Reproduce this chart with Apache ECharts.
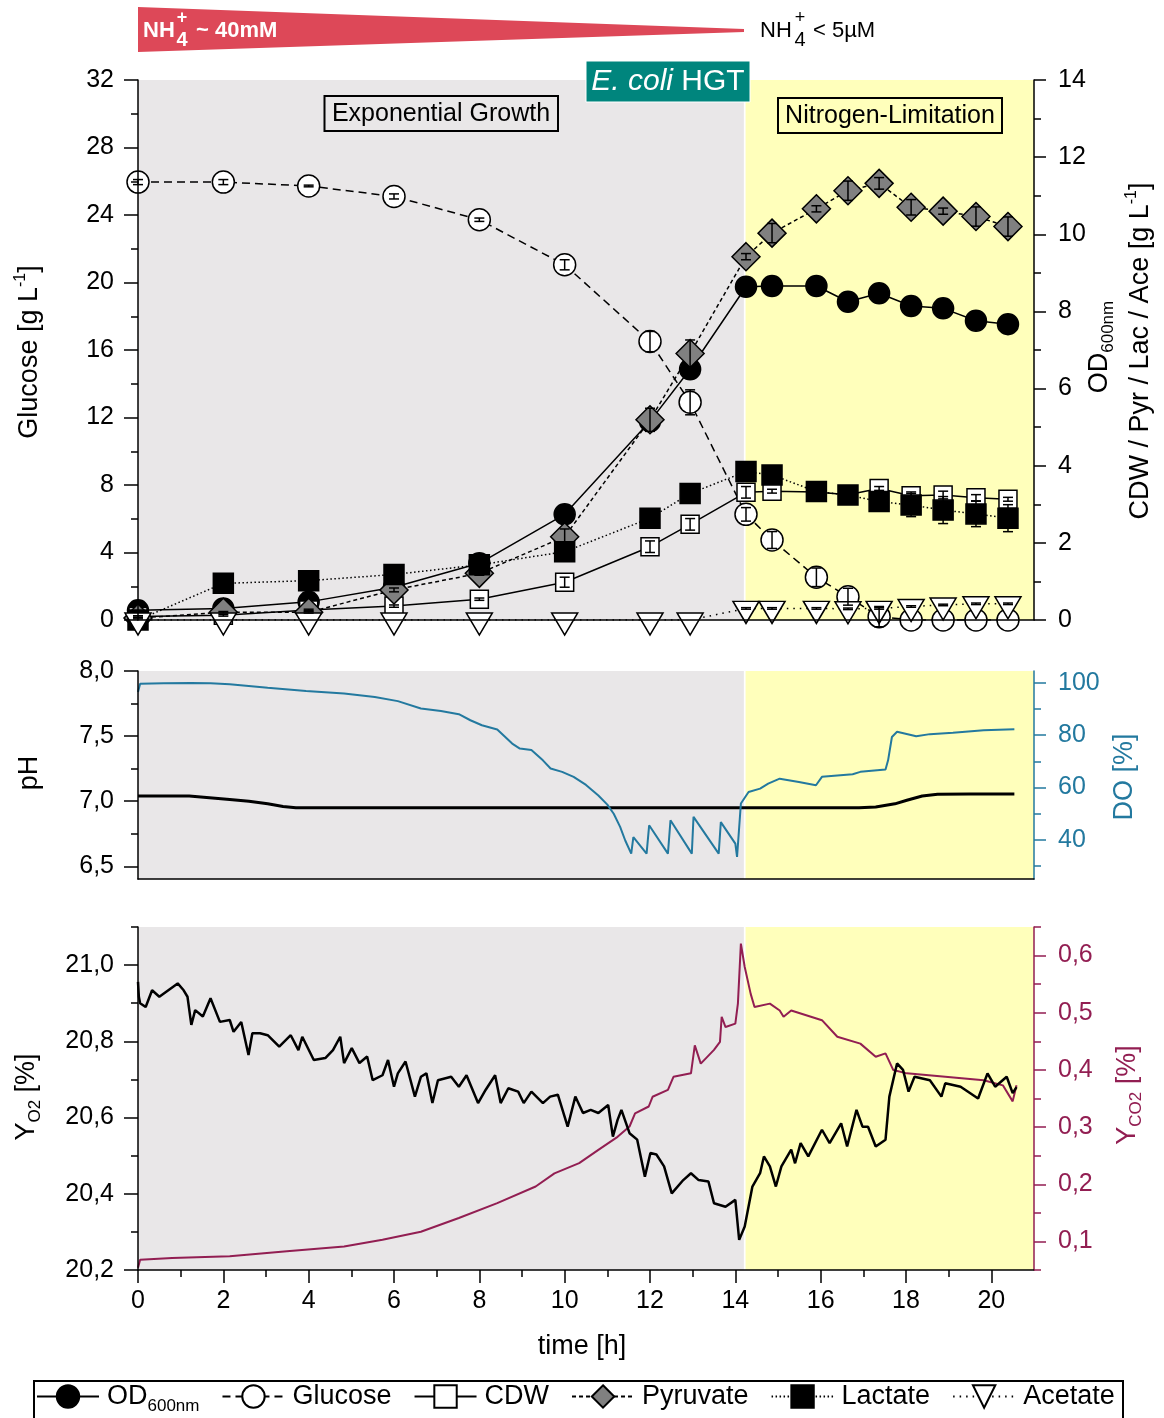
<!DOCTYPE html>
<html>
<head>
<meta charset="utf-8">
<title>E. coli HGT cultivation</title>
<script src="https://cdn.jsdelivr.net/npm/echarts@6.0.0/dist/echarts.min.js"></script>
<style>
html,body{margin:0;padding:0;background:#fff;}
#chart{width:1164px;height:1418px;}
</style>
</head>
<body>
<div id="chart"></div>
<script>
// ---------------- data ----------------
// offline samples (top panel)
const sampleTime = [0, 2, 4, 6, 8, 10, 12, 12.94, 14.25, 14.86, 15.9, 16.64, 17.37, 18.12, 18.87, 19.64, 20.39];
const od600      = [0.25, 0.3, 0.47, 0.85, 1.47, 2.74, 5.15, 6.5, 8.64, 8.66, 8.66, 8.25, 8.47, 8.14, 8.08, 7.76, 7.67];
const glucose    = [25.95, 25.95, 25.72, 25.1, 23.72, 21.05, 16.5, 12.9, 6.26, 4.74, 2.53, 1.38, 0.2, 0, 0, 0, 0];
const glucoseSD  = [0.15, 0.15, 0.05, 0.15, 0.1, 0.3, 0.6, 0.74, 0.4, 0.5, 0.55, 0.5, 0.6, 0, 0, 0, 0];
const cdw        = [0.09, 0.12, 0.26, 0.36, 0.54, 0.98, 1.9, 2.48, 3.31, 3.34, 3.32, 3.25, 3.41, 3.22, 3.24, 3.17, 3.13];
const cdwSD      = [0.02, 0.02, 0.02, 0.03, 0.03, 0.13, 0.15, 0.15, 0.15, 0.05, 0.05, 0.05, 0.05, 0.1, 0.1, 0.08, 0.05];
const pyruvate   = [0.05, 0.2, 0.2, 0.78, 1.21, 2.16, 5.19, 6.91, 9.42, 10.03, 10.66, 11.13, 11.32, 10.7, 10.6, 10.46, 10.2];
const pyruvateSD = [0.02, 0.02, 0.02, 0.05, 0.05, 0.2, 0.3, 0.35, 0.08, 0.25, 0.08, 0.25, 0.15, 0.2, 0.08, 0.25, 0.25];
const lactate    = [0, 0.95, 1.02, 1.18, 1.43, 1.77, 2.64, 3.28, 3.85, 3.76, 3.33, 3.24, 3.07, 2.98, 2.85, 2.75, 2.64];
const lactateSD  = [0, 0, 0, 0, 0, 0, 0, 0, 0, 0, 0.1, 0.1, 0.12, 0.3, 0.35, 0.33, 0.35];
const acetate    = [0, 0, 0, 0, 0, 0, 0, 0, 0.3, 0.3, 0.3, 0.29, 0.3, 0.35, 0.39, 0.42, 0.42];
const acetateSD  = [0, 0, 0, 0, 0, 0, 0, 0, 0.02, 0.02, 0.02, 0.02, 0.02, 0.02, 0.02, 0.02, 0.02];

// process phases (h)
const phaseNames = ['Exponential Growth', 'Nitrogen-Limitation'];
const phaseStart = [0, 14.24];
const phaseEnd   = [14.2, 21];

// online pH / DO (middle panel)
const phTime = [0, 1.2, 2.15, 2.6, 3.04, 3.4, 3.7, 4.5, 8, 12, 16, 16.9, 17.29, 17.74, 18.02, 18.38, 18.74, 19.5, 20.54];
const phVal  = [7.04, 7.04, 7.013, 7.0, 6.98, 6.96, 6.95, 6.95, 6.95, 6.95, 6.95, 6.95, 6.956, 6.98, 7.008, 7.04, 7.054, 7.055, 7.055];
const doTime = [0, 0.05, 0.6, 1.24, 1.7, 2.15, 3.04, 3.94, 4.83, 5.55, 6.09, 6.63, 7.1, 7.52, 7.79, 8.06, 8.42, 8.77, 8.95, 9.22,
                9.49, 9.67, 9.94, 10.21, 10.5, 10.79, 11.0, 11.15, 11.3, 11.42, 11.56, 11.61, 11.92, 11.98, 12.42, 12.48, 12.98, 13.02, 13.61, 13.66,
                14.0, 14.04, 14.13, 14.31, 14.58, 14.77, 15.04, 15.49, 15.89, 16.03, 16.75, 16.93, 17.52, 17.58, 17.67, 17.79, 18.24, 18.56, 19.1, 19.82, 20.54];
const doVal  = [96.5, 99.6, 99.8, 99.9, 99.8, 99.4, 98.1, 96.9, 95.9, 94.6, 93.0, 90.2, 89.2, 88.0, 85.7, 83.8, 82.2, 76.8, 74.9, 74.3,
                70.4, 67.3, 66.0, 64.1, 61.0, 57.0, 53.5, 50.0, 45.0, 39.8, 34.8, 41.1, 34.8, 45.6, 34.8, 47.5, 34.8, 48.8, 34.8, 46.8,
                38.6, 33.5, 53.9, 58.3, 59.6, 61.5, 63.4, 62.1, 60.9, 64.1, 65.1, 66.0, 66.9, 70.4, 79.3, 81.3, 79.6, 80.4, 80.9, 81.9, 82.3];

// off-gas (bottom panel)
const o2Time = [0, 0.02, 0.05, 0.18, 0.33, 0.5, 0.93, 1.07, 1.16, 1.25, 1.34, 1.52, 1.7, 1.92, 2.15, 2.24, 2.42, 2.59, 2.68, 2.86,
                3.04, 3.31, 3.58, 3.76, 3.85, 4.12, 4.39, 4.57, 4.74, 4.83, 5.01, 5.19, 5.37, 5.5, 5.73, 5.86, 6.0, 6.09, 6.27, 6.49,
                6.63, 6.76, 6.9, 7.03, 7.34, 7.52, 7.7, 7.97, 8.15, 8.37, 8.5, 8.68, 8.91, 9.04, 9.22, 9.49, 9.66, 9.84, 10.07, 10.25,
                10.43, 10.61, 10.79, 11.02, 11.13, 11.24, 11.33, 11.52, 11.7, 11.88, 12.01, 12.15, 12.33, 12.51, 12.78, 12.96, 13.14, 13.37, 13.5, 13.77,
                14.0, 14.09, 14.22, 14.4, 14.58, 14.67, 14.81, 14.95, 15.08, 15.31, 15.4, 15.53, 15.71, 16.03, 16.21, 16.48, 16.62, 16.84, 16.98, 17.11,
                17.29, 17.52, 17.61, 17.79, 17.93, 18.06, 18.2, 18.56, 18.83, 18.92, 19.28, 19.69, 19.91, 20.09, 20.36, 20.5, 20.59];
const o2Val  = [20.956, 20.917, 20.90, 20.89, 20.934, 20.917, 20.952, 20.934, 20.917, 20.843, 20.882, 20.865, 20.913, 20.851, 20.856, 20.825, 20.851, 20.764, 20.821, 20.821,
                20.816, 20.786, 20.816, 20.777, 20.812, 20.751, 20.756, 20.777, 20.812, 20.743, 20.782, 20.743, 20.760, 20.698, 20.711, 20.751, 20.681, 20.716, 20.747, 20.655,
                20.707, 20.716, 20.638, 20.698, 20.707, 20.681, 20.711, 20.638, 20.673, 20.711, 20.638, 20.677, 20.668, 20.638, 20.668, 20.638, 20.655, 20.660, 20.576, 20.655,
                20.612, 20.62, 20.612, 20.633, 20.55, 20.594, 20.62, 20.559, 20.542, 20.445, 20.507, 20.503, 20.472, 20.401, 20.436, 20.454, 20.436, 20.432, 20.375, 20.366,
                20.384, 20.279, 20.314, 20.419, 20.454, 20.498, 20.472, 20.419, 20.472, 20.516, 20.48, 20.533, 20.498, 20.568, 20.533, 20.585, 20.524, 20.62, 20.576, 20.576,
                20.524, 20.542, 20.655, 20.742, 20.725, 20.668, 20.707, 20.698, 20.655, 20.69, 20.681, 20.65, 20.716, 20.681, 20.707, 20.664, 20.68];
const co2Time = [0, 0.05, 0.8, 2.15, 3.49, 4.83, 5.73, 6.63, 7.52, 8.42, 9.32, 9.76, 10.34, 10.79, 11.24, 11.52, 11.65, 11.97, 12.06, 12.42,
                 12.55, 12.96, 13.05, 13.19, 13.5, 13.64, 13.68, 13.77, 14.0, 14.06, 14.13, 14.22, 14.36, 14.45, 14.81, 15.04, 15.13, 15.31, 16.03, 16.39,
                 16.93, 17.29, 17.52, 17.7, 18.02, 18.47, 18.92, 19.37, 19.82, 20.27, 20.5, 20.59];
const co2Val  = [0.054, 0.068, 0.071, 0.074, 0.083, 0.091, 0.103, 0.117, 0.141, 0.167, 0.196, 0.219, 0.237, 0.26, 0.283, 0.301, 0.324, 0.336, 0.353, 0.365,
                 0.388, 0.394, 0.443, 0.411, 0.435, 0.449, 0.493, 0.475, 0.481, 0.516, 0.621, 0.58, 0.533, 0.51, 0.516, 0.504, 0.493, 0.504, 0.487, 0.458,
                 0.446, 0.423, 0.429, 0.40, 0.394, 0.391, 0.388, 0.385, 0.382, 0.373, 0.345, 0.373];

// tick values
const xMajorTicks = [0, 2, 4, 6, 8, 10, 12, 14, 16, 18, 20];
const xMinorTicks = [1, 3, 5, 7, 9, 11, 13, 15, 17, 19];
const phMajorTicks = [6.5, 7.0, 7.5, 8.0];
const phMinorTicks = [6.75, 7.25, 7.75];
const doMajorTicks = [40, 60, 80, 100];
const doMinorTicks = [30, 50, 70, 90];
const o2MajorTicks = [20.2, 20.4, 20.6, 20.8, 21.0];
const o2MinorTicks = [20.3, 20.5, 20.7, 20.9, 21.1];
const co2MajorTicks = [0.1, 0.2, 0.3, 0.4, 0.5, 0.6];
const co2MinorTicks = [0.05, 0.15, 0.25, 0.35, 0.45, 0.55, 0.65];

// ---------------- styling ----------------
const FONT = '"Liberation Sans", Arial, Helvetica, sans-serif';
const BLACK = '#000000';
const GREY_BG = '#E9E7E8';
const YELLOW_BG = '#FFFFBB';
const DO_BLUE = '#23799F';
const CO2_RED = '#921E52';
const TICK_FS = 25;
const TITLE_FS = 27;
const LABEL_MARGIN = 24;

const zip = (a, b) => a.map((v, i) => [v, b[i]]);
const pts = vals => sampleTime.map((t, i) => [t, vals[i]]);
const sdPts = (vals, sd) => sampleTime.map((t, i) => [t, vals[i], sd[i]]).filter(d => d[2] > 0);
const comma = v => v.toFixed(1).replace('.', ',');

function xAx(grid, extra) {
  return Object.assign({
    type: 'value', gridIndex: grid, position: 'bottom', min: 0, max: 21, z: 5,
    axisLine: { show: true, onZero: false, lineStyle: { color: BLACK, width: 1.5 } },
    axisTick: { show: false }, axisLabel: { show: false }, splitLine: { show: false }
  }, extra || {});
}
function yAx(grid, pos, min, max, color, extra) {
  return Object.assign({
    type: 'value', gridIndex: grid, position: pos, min: min, max: max, z: 5,
    axisLine: { show: true, onZero: false, lineStyle: { color: color, width: 1.5 } },
    splitLine: { show: false }
  }, extra || {});
}
function tickSet(values, len, color) {
  return { show: true, customValues: values, length: len, inside: false, lineStyle: { color: color, width: 1.5 } };
}
function labelSet(values, color, fmt) {
  const o = { show: true, customValues: values, margin: LABEL_MARGIN, fontSize: TICK_FS, fontFamily: FONT, color: color };
  if (fmt) o.formatter = fmt;
  return o;
}
function minorAx(grid, pos, min, max, values, color) {
  return {
    type: 'value', gridIndex: grid, position: pos, min: min, max: max, z: 5,
    axisLine: { show: false, onZero: false }, splitLine: { show: false },
    axisTick: tickSet(values, 7, color), axisLabel: { show: false }
  };
}

const phaseAreas = phaseStart.map((s, i) => [
  { xAxis: s, itemStyle: { color: i === 0 ? GREY_BG : YELLOW_BG } },
  { xAxis: phaseEnd[i] }
]);
function bgSeries(xi, yi) {
  return { type: 'line', xAxisIndex: xi, yAxisIndex: yi, data: [], silent: true, z: 0,
    markArea: { silent: true, z: 0, data: phaseAreas } };
}

function errorBars(vals, sd, yi) {
  return {
    type: 'custom', xAxisIndex: 0, yAxisIndex: yi, z: 4, silent: true, clip: false,
    data: sdPts(vals, sd), encode: { x: 0, y: 1 },
    renderItem: function (params, api) {
      const x = api.value(0), y = api.value(1), e = api.value(2);
      const hi = api.coord([x, y + e]), lo = api.coord([x, y - e]);
      const w = 5, st = { stroke: BLACK, lineWidth: 1.5 };
      return { type: 'group', children: [
        { type: 'line', shape: { x1: hi[0], y1: hi[1], x2: lo[0], y2: lo[1] }, style: st },
        { type: 'line', shape: { x1: hi[0] - w, y1: hi[1], x2: hi[0] + w, y2: hi[1] }, style: st },
        { type: 'line', shape: { x1: lo[0] - w, y1: lo[1], x2: lo[0] + w, y2: lo[1] }, style: st }
      ] };
    }
  };
}

function sampleSeries(name, yi, vals, symbol, size, fill, dash, extra) {
  return Object.assign({
    name: name, type: 'line', xAxisIndex: 0, yAxisIndex: yi, data: pts(vals), z: 3,
    symbol: symbol, symbolSize: size, showSymbol: true, showAllSymbol: true,
    lineStyle: { color: BLACK, width: 1.5, type: dash },
    itemStyle: { color: fill, borderColor: BLACK, borderWidth: 1.5 }
  }, extra || {});
}

function titleRich(color) {
  return {
    a: { fontSize: TITLE_FS, lineHeight: 34, fill: color, fontFamily: FONT },
    sup: { fontSize: 16, lineHeight: 16, verticalAlign: 'top', fill: color, fontFamily: FONT },
    sub: { fontSize: 17, lineHeight: 17, verticalAlign: 'bottom', fill: color, fontFamily: FONT }
  };
}
function vTitle(x, y, text, color) {
  return { type: 'text', z: 20, x: x, y: y, rotation: Math.PI / 2,
    style: { text: text, rich: titleRich(color), align: 'center', verticalAlign: 'middle', fill: color, fontFamily: FONT, fontSize: TITLE_FS } };
}
function plainText(x, y, text, size, color, weight, align) {
  return { type: 'text', z: 20, x: x, y: y,
    style: { text: text, fill: color, fontSize: size, fontFamily: FONT, fontWeight: weight || 'normal',
      align: align || 'left', verticalAlign: 'middle' } };
}

const chart = echarts.init(document.getElementById('chart'), null, { renderer: 'canvas' });

const option = {
  animation: false,
  backgroundColor: '#ffffff',
  grid: [
    { left: 138, top: 80, width: 896, height: 540 },
    { left: 138, top: 671, width: 896, height: 208 },
    { left: 138, top: 927, width: 896, height: 343 }
  ],
  xAxis: [
    xAx(0),
    xAx(1),
    xAx(2, { axisTick: tickSet(xMajorTicks, 13, BLACK), axisLabel: Object.assign(labelSet(xMajorTicks, BLACK), { margin: 19 }) }),
    xAx(2, { axisLine: { show: false, onZero: false }, axisTick: tickSet(xMinorTicks, 7, BLACK) })
  ],
  yAxis: [
    yAx(0, 'left', 0, 32, BLACK, {
      interval: 4,
      axisTick: { show: true, length: 14, lineStyle: { color: BLACK, width: 1.5 } },
      minorTick: { show: true, splitNumber: 2, length: 7, lineStyle: { color: BLACK, width: 1.5 } },
      axisLabel: { margin: LABEL_MARGIN, fontSize: TICK_FS, fontFamily: FONT, color: BLACK }
    }),
    yAx(0, 'right', 0, 14, BLACK, {
      interval: 2,
      axisTick: { show: true, length: 12, lineStyle: { color: BLACK, width: 1.5 } },
      minorTick: { show: true, splitNumber: 2, length: 7, lineStyle: { color: BLACK, width: 1.5 } },
      axisLabel: { margin: LABEL_MARGIN, fontSize: TICK_FS, fontFamily: FONT, color: BLACK }
    }),
    yAx(1, 'left', 6.403, 8.0, BLACK, { axisTick: tickSet(phMajorTicks, 14, BLACK), axisLabel: labelSet(phMajorTicks, BLACK, comma) }),
    minorAx(1, 'left', 6.403, 8.0, phMinorTicks, BLACK),
    yAx(1, 'right', 25.1, 104.5, DO_BLUE, { axisTick: tickSet(doMajorTicks, 12, DO_BLUE), axisLabel: labelSet(doMajorTicks, DO_BLUE) }),
    minorAx(1, 'right', 25.1, 104.5, doMinorTicks, DO_BLUE),
    yAx(2, 'left', 20.2, 21.1, BLACK, { axisTick: tickSet(o2MajorTicks, 14, BLACK), axisLabel: labelSet(o2MajorTicks, BLACK, comma) }),
    minorAx(2, 'left', 20.2, 21.1, o2MinorTicks, BLACK),
    yAx(2, 'right', 0.05, 0.65, CO2_RED, { axisTick: tickSet(co2MajorTicks, 12, CO2_RED), axisLabel: labelSet(co2MajorTicks, CO2_RED, comma) }),
    minorAx(2, 'right', 0.05, 0.65, co2MinorTicks, CO2_RED)
  ],
  legend: {
    left: 36, top: 1383, padding: 0, itemWidth: 62, itemHeight: 28, itemGap: 22,
    selectedMode: false,
    data: ['OD600nm', 'Glucose', 'CDW', 'Pyruvate', 'Lactate', 'Acetate'],
    formatter: function (name) {
      return name === 'OD600nm' ? '{a|OD}{s|600nm}' : '{a|' + name + '}';
    },
    textStyle: {
      color: BLACK, fontFamily: FONT, fontSize: 27, padding: [0, 0, 0, 3],
      rich: {
        a: { fontSize: 27, lineHeight: 36, fontFamily: FONT, color: BLACK },
        s: { fontSize: 17, lineHeight: 17, verticalAlign: 'bottom', fontFamily: FONT, color: BLACK }
      }
    }
  },
  graphic: [
    // ammonium gradient wedge
    { type: 'polygon', z: 10, shape: { points: [[138, 7], [138, 52], [744, 32], [744, 29]] }, style: { fill: '#DD4858' } },
    plainText(143, 31, 'NH', 22, '#ffffff', 'bold'),
    plainText(182, 18, '+', 18, '#ffffff', 'bold', 'center'),
    plainText(182, 40, '4', 20, '#ffffff', 'bold', 'center'),
    plainText(196, 31, '~ 40mM', 22, '#ffffff', 'bold'),
    plainText(760, 31, 'NH', 22, BLACK),
    plainText(800, 18, '+', 18, BLACK, 'normal', 'center'),
    plainText(800, 40, '4', 20, BLACK, 'normal', 'center'),
    plainText(813, 31, '< 5µM', 22, BLACK),
    // strain label
    { type: 'rect', z: 10, shape: { x: 586, y: 61, width: 164, height: 41 }, style: { fill: '#00857D', stroke: '#ffffff', lineWidth: 1 } },
    { type: 'text', z: 20, x: 668, y: 82, style: {
        text: '{i|E. coli} {n|HGT}', fill: '#ffffff', fontSize: 30, fontFamily: FONT, align: 'center', verticalAlign: 'middle',
        rich: { i: { fontStyle: 'italic', fontSize: 30, fill: '#ffffff', fontFamily: FONT }, n: { fontSize: 30, fill: '#ffffff', fontFamily: FONT } } } },
    // phase labels
    { type: 'rect', z: 10, shape: { x: 324.5, y: 96, width: 233.5, height: 35 }, style: { fill: 'none', stroke: BLACK, lineWidth: 2 } },
    plainText(441, 114, phaseNames[0], 25, BLACK, 'normal', 'center'),
    { type: 'rect', z: 10, shape: { x: 778, y: 98, width: 224, height: 35 }, style: { fill: 'none', stroke: BLACK, lineWidth: 2 } },
    plainText(890, 116, phaseNames[1], 25, BLACK, 'normal', 'center'),
    // axis titles
    vTitle(30, 352, '{a|Glucose [g L}{sup|-1}{a|]}', BLACK),
    vTitle(1100, 347, '{a|OD}{sub|600nm}', BLACK),
    vTitle(1141, 351, '{a|CDW / Pyr / Lac / Ace [g L}{sup|-1}{a|]}', BLACK),
    vTitle(30, 773, '{a|pH}', BLACK),
    vTitle(1125, 777, '{a|DO [%]}', DO_BLUE),
    vTitle(27, 1097, '{a|Y}{sub|O2}{a| [%]}', BLACK),
    vTitle(1128, 1095, '{a|Y}{sub|CO2}{a| [%]}', CO2_RED),
    plainText(582, 1347, 'time [h]', TITLE_FS, BLACK, 'normal', 'center'),
    // legend frame
    { type: 'rect', z: 10, shape: { x: 34, y: 1381, width: 1089, height: 60 }, style: { fill: 'none', stroke: BLACK, lineWidth: 2 } }
  ],
  series: [
    bgSeries(0, 0),
    bgSeries(1, 2),
    bgSeries(2, 6),
    sampleSeries('OD600nm', 1, od600, 'circle', 21, BLACK, 'solid'),
    sampleSeries('Glucose', 0, glucose, 'circle', 22, '#ffffff', [8, 5]),
    sampleSeries('CDW', 1, cdw, 'rect', 18, '#ffffff', 'solid'),
    sampleSeries('Pyruvate', 1, pyruvate, 'diamond', [28, 28], '#808080', [4, 3]),
    sampleSeries('Lactate', 1, lactate, 'rect', 20, BLACK, [1.5, 2.5]),
    sampleSeries('Acetate', 1, acetate, 'path://M0,0L20,0L10,17Z', [26, 22], '#ffffff', [1.5, 5], { symbolOffset: [0, 4] }),
    errorBars(glucose, glucoseSD, 0),
    errorBars(cdw, cdwSD, 1),
    errorBars(pyruvate, pyruvateSD, 1),
    errorBars(lactate, lactateSD, 1),
    errorBars(acetate, acetateSD, 1),
    { name: 'pH', type: 'line', xAxisIndex: 1, yAxisIndex: 2, data: zip(phTime, phVal), showSymbol: false, z: 3,
      lineStyle: { color: BLACK, width: 3 } },
    { name: 'DO', type: 'line', xAxisIndex: 1, yAxisIndex: 4, data: zip(doTime, doVal), showSymbol: false, z: 3,
      lineStyle: { color: DO_BLUE, width: 2 } },
    { name: 'Y_CO2', type: 'line', xAxisIndex: 2, yAxisIndex: 8, data: zip(co2Time, co2Val), showSymbol: false, z: 3,
      lineStyle: { color: CO2_RED, width: 2 } },
    { name: 'Y_O2', type: 'line', xAxisIndex: 2, yAxisIndex: 6, data: zip(o2Time, o2Val), showSymbol: false, z: 3,
      lineStyle: { color: BLACK, width: 2.5 } }
  ]
};
chart.setOption(option);
</script>
</body>
</html>
